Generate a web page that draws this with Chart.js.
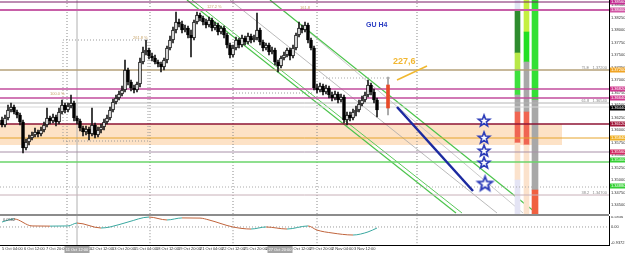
<!DOCTYPE html>
<html><head><meta charset="utf-8">
<script src="https://cdn.jsdelivr.net/npm/chart.js@4.4.1/dist/chart.umd.min.js"></script>
<style>
html,body{margin:0;padding:0;background:#fff;width:625px;height:253px;overflow:hidden;}
#wrap{position:relative;width:625px;height:253px;background:#fff;}
canvas{position:absolute;left:0;}
#c1{top:0;}
#sep{position:absolute;left:0;top:214px;width:609px;height:2px;background:#8c8c8c;}
#c2{top:216px;}
</style></head><body>
<div id="wrap"><canvas id="c1" width="625" height="214"></canvas><div id="sep"></div><canvas id="c2" width="625" height="37"></canvas></div>
<script>
// ---------- DATA ----------
const opens = [1.3620,1.3610,1.3624,1.3640,1.3646,1.3636,1.3630,1.3616,1.3564,1.3576,
1.3584,1.3590,1.3596,1.3592,1.3600,1.3610,1.3624,1.3618,1.3626,1.3616,
1.3636,1.3650,1.3640,1.3648,1.3654,1.3624,1.3618,1.3604,1.3596,1.3602,
1.3592,1.3610,1.3590,1.3600,1.3606,1.3616,1.3624,1.3640,1.3656,1.3664,
1.3672,1.3680,1.3720,1.3696,1.3684,1.3680,1.3692,1.3736,1.3756,1.3760,
1.3748,1.3744,1.3736,1.3732,1.3726,1.3740,1.3764,1.3780,1.3800,1.3816,
1.3812,1.3800,1.3804,1.3790,1.3784,1.3816,1.3830,1.3824,1.3816,1.3810,
1.3820,1.3804,1.3810,1.3796,1.3804,1.3790,1.3770,1.3750,1.3764,1.3780,
1.3770,1.3784,1.3776,1.3788,1.3780,1.3784,1.3800,1.3776,1.3764,1.3770,
1.3756,1.3760,1.3736,1.3728,1.3744,1.3750,1.3760,1.3748,1.3764,1.3790,
1.3804,1.3800,1.3810,1.3780,1.3764,1.3684,1.3680,1.3688,1.3676,1.3684,
1.3670,1.3664,1.3672,1.3660,1.3666,1.3620,1.3630,1.3624,1.3636,1.3640,
1.3652,1.3660,1.3670,1.3690,1.3676,1.3660];
const closes = [1.3610,1.3624,1.3640,1.3646,1.3636,1.3630,1.3616,1.3564,1.3576,1.3584,
1.3590,1.3596,1.3592,1.3600,1.3610,1.3624,1.3618,1.3626,1.3616,1.3636,
1.3650,1.3640,1.3648,1.3654,1.3624,1.3618,1.3604,1.3596,1.3602,1.3592,
1.3610,1.3590,1.3600,1.3606,1.3616,1.3624,1.3640,1.3656,1.3664,1.3672,
1.3680,1.3720,1.3696,1.3684,1.3680,1.3692,1.3736,1.3756,1.3760,1.3748,
1.3744,1.3736,1.3732,1.3726,1.3740,1.3764,1.3780,1.3800,1.3816,1.3812,
1.3800,1.3804,1.3790,1.3784,1.3816,1.3830,1.3824,1.3816,1.3810,1.3820,
1.3804,1.3810,1.3796,1.3804,1.3790,1.3770,1.3750,1.3764,1.3780,1.3770,
1.3784,1.3776,1.3788,1.3780,1.3784,1.3800,1.3776,1.3764,1.3770,1.3756,
1.3760,1.3736,1.3728,1.3744,1.3750,1.3760,1.3748,1.3764,1.3790,1.3804,
1.3800,1.3810,1.3780,1.3764,1.3684,1.3680,1.3688,1.3676,1.3684,1.3670,
1.3664,1.3672,1.3660,1.3666,1.3620,1.3630,1.3624,1.3636,1.3640,1.3652,
1.3660,1.3670,1.3690,1.3676,1.3660,1.3640];
const highs = [1.3626,1.3630,1.3650,1.3654,1.3650,1.3640,1.3634,1.3620,1.3582,1.3590,
1.3596,1.3604,1.3600,1.3606,1.3616,1.3644,1.3628,1.3632,1.3630,1.3644,
1.3660,1.3654,1.3654,1.3670,1.3658,1.3628,1.3622,1.3608,1.3608,1.3606,
1.3644,1.3614,1.3606,1.3612,1.3622,1.3630,1.3646,1.3662,1.3670,1.3678,
1.3688,1.3740,1.3724,1.3700,1.3690,1.3696,1.3744,1.3766,1.3780,1.3764,
1.3754,1.3750,1.3740,1.3736,1.3744,1.3768,1.3788,1.3806,1.3836,1.3822,
1.3818,1.3810,1.3808,1.3800,1.3820,1.3836,1.3834,1.3828,1.3822,1.3826,
1.3824,1.3816,1.3814,1.3808,1.3808,1.3794,1.3774,1.3770,1.3786,1.3784,
1.3790,1.3788,1.3794,1.3792,1.3790,1.3834,1.3804,1.3780,1.3774,1.3774,
1.3766,1.3764,1.3740,1.3748,1.3756,1.3764,1.3764,1.3770,1.3794,1.3816,
1.3810,1.3816,1.3814,1.3784,1.3768,1.3692,1.3694,1.3692,1.3690,1.3688,
1.3676,1.3678,1.3676,1.3672,1.3670,1.3636,1.3636,1.3642,1.3648,1.3660,
1.3668,1.3676,1.3700,1.3694,1.3682,1.3664];
const lows = [1.3606,1.3606,1.3620,1.3636,1.3632,1.3624,1.3610,1.3554,1.3560,1.3570,
1.3580,1.3586,1.3586,1.3588,1.3596,1.3606,1.3612,1.3614,1.3608,1.3612,
1.3632,1.3634,1.3636,1.3644,1.3618,1.3612,1.3598,1.3588,1.3590,1.3580,
1.3588,1.3584,1.3586,1.3594,1.3600,1.3612,1.3620,1.3636,1.3652,1.3660,
1.3668,1.3676,1.3690,1.3678,1.3674,1.3676,1.3686,1.3732,1.3750,1.3742,
1.3738,1.3732,1.3726,1.3716,1.3720,1.3734,1.3760,1.3774,1.3794,1.3806,
1.3794,1.3796,1.3784,1.3746,1.3780,1.3812,1.3818,1.3810,1.3804,1.3806,
1.3798,1.3800,1.3790,1.3792,1.3784,1.3764,1.3744,1.3746,1.3760,1.3764,
1.3766,1.3770,1.3772,1.3774,1.3776,1.3780,1.3770,1.3758,1.3760,1.3750,
1.3752,1.3730,1.3716,1.3724,1.3740,1.3746,1.3740,1.3744,1.3760,1.3786,
1.3794,1.3796,1.3774,1.3760,1.3680,1.3674,1.3676,1.3670,1.3672,1.3664,
1.3658,1.3660,1.3654,1.3656,1.3614,1.3610,1.3618,1.3620,1.3628,1.3636,
1.3648,1.3656,1.3666,1.3670,1.3654,1.3626];

// horizontal levels
const levels      = [1.3856,1.3840,1.3720,1.3682,1.3664,1.3654,1.3646,1.3612,1.3584,1.3556,1.3536,1.3486,1.3470];
const levelColors = ['#7a1a66','#c860a8','#b4a078','#c24c9c','#c24c9c','#b4b4b4','#d8d8d8','#8e1434','#e6a42c','#a890a8','#6ad46a','#aaaaaa','#c8b0b8'];
const levelWidths = [1,2,1.5,1.5,1.5,1,1,1.5,1,1,1.5,1,1];
// support zone
const zoneTop = 1.3612, zoneBottom = 1.3570, zoneEndIdx = 186.67;
// axis price tags
const tagPrices = [1.3856,1.3840,1.3720,1.3682,1.3664,1.3644,1.3612,1.3584,1.3556,1.3540,1.3488];
const tagColors = ['#c42c92','#d256a4','#f0a424','#d0388e','#d0388e','#000000','#a0183a','#f0b024','#d22a62','#34d034','#34d034'];
// trend lines [idx, price]
const channelUpper  = [[89.33,1.3860],[177.67,1.3436]];
const channelLowerA = [[61.67,1.3860],[151.33,1.3434]];
const channelLowerB = [[63.33,1.3860],[153.33,1.3434]];
const channelMidA   = [[76.00,1.3860],[165.00,1.3434]];
const channelMidB   = [[93.67,1.3840],[173.67,1.3434]];
const blueTarget    = [[131.67,1.3646],[157.00,1.3478]];
const goldArrow     = [[131.67,1.3700],[141.67,1.3728]];
const markerBar = [1.3644,1.3690], markerWick = [1.3630,1.3706], markerIdx = 128.67;
// stars
const starIdx = [160.67,160.67,160.67,160.67,161.0];
const starPrices = [1.3618,1.3584,1.3558,1.3534,1.3492];
// right-side strength columns: [from, to]
const colAIdx = 171.83, colBIdx = 174.83, colCIdx = 177.67;
const colA = [[1.3860,1.3838],[1.3838,1.3754],[1.3754,1.3720],[1.3720,1.3670],[1.3670,1.3636],[1.3636,1.3574],[1.3574,1.3500],[1.3500,1.3432]];
const colAColors = ['#dfe4f2','#2e8b2e','#b8e848','#3ee03e','#a8a8a8','#f06552','#fbe2cc','#e4e4f4'];
const colB = [[1.3860,1.3796],[1.3796,1.3736],[1.3736,1.3636],[1.3636,1.3570],[1.3570,1.3432]];
const colBColors = ['#c4f040','#22e022','#a8a8a8','#f06552','#fbe2cc'];
const colC = [[1.3860,1.3660],[1.3660,1.3480],[1.3480,1.3432]];
const colCColors = ['#33e033','#a8a8a8','#f06040'];
// separators & fib boxes
const sepIdx = [21.67,49.33,77,105,138.33];
const vLineIdx = 25;
const fibBox = [[20.33,1.3780],[48.67,1.3780],[48.67,1.3578],[20.33,1.3578],[20.33,1.3780]];
const fibLine2 = [[77,1.3674],[103.67,1.3674]];
const fibLine3 = [[107,1.3704],[129.33,1.3704]];
// oscillator
const indIdx = [0,4,10,16,22,25,33,36,42,49,55,60,66,69,77,83,88,95,102,105,110,117,122,125];
const indVal = [0.29,0.47,0.06,0.05,0.06,0.23,-0.06,0.0,0.29,0.58,0.41,0.53,0.52,0.41,0.0,-0.12,0.0,-0.12,0.06,-0.18,-0.35,-0.47,-0.29,-0.06];
const indTicks = [0.5836,0,-0.9372];
// time axis
const timeTickIdx = [0,7.33,14.67,22,29.33,36.67,44,51.33,58.67,66,73.33,80.67,88,95.33,102.67,110,117.33];
const timeLabels = ['5 Oct 04:00','6 Oct 12:00','7 Oct 20:00','11 Oct 04:00','12 Oct 12:00','13 Oct 20:00','15 Oct 04:00','18 Oct 12:00','19 Oct 20:00','21 Oct 04:00','22 Oct 12:00','25 Oct 20:00','27 Oct 04:00','28 Oct 12:00','29 Oct 20:00','2 Nov 04:00','3 Nov 12:00'];
const boxLabels = [[25,'11 Oct 12:00'],[92.67,'27 Oct 20:00']];

// ---------- CHART ----------
const X_MIN = -0.667, X_MAX = 202.333, P_MIN = 1.3432, P_MAX = 1.3860;
const FONT = 'Liberation Sans, Arial, sans-serif';

function pts(arr){ return arr.map(p=>({x:p[0], y:p[1]})); }
function lineDs(arr, color, width, order, dash){
  return {type:'line', data:pts(arr), borderColor:color, borderWidth:width, pointRadius:0, pointHoverRadius:0, fill:false, order:order, borderDash:dash||[], tension:0};
}
function starImg(r, lw){
  const c=document.createElement('canvas'); const s=Math.ceil(2*r+lw*2+2); c.width=c.height=s;
  const g=c.getContext('2d'); g.beginPath();
  for(let k=0;k<10;k++){const rr=k%2? r*0.42 : r; const a=-Math.PI/2+k*Math.PI/5; g.lineTo(s/2+rr*Math.cos(a), s/2+rr*Math.sin(a));}
  g.closePath(); g.fillStyle='#ffffff'; g.fill(); g.strokeStyle='#2a3ab8'; g.lineWidth=lw; g.lineJoin='miter'; g.stroke(); return c;
}
const sSmall = starImg(6,1.6), sBig = starImg(7.5,1.8);

const ds = [];
ds.push({type:'line', showLine:false, data:starIdx.map((x,i)=>({x, y:starPrices[i]})), pointStyle:[sSmall,sSmall,sSmall,sSmall,sBig], pointRadius:5, order:0});
ds.push(lineDs(blueTarget,'#1c2aa0',2.5,1));
ds.push(lineDs(goldArrow,'#f0b830',1.6,1));
ds.push({type:'bar', data:[{x:markerIdx,y:markerBar}], backgroundColor:'#e84a28', barThickness:3, grouped:false, order:1});
ds.push({type:'bar', data:[{x:markerIdx,y:markerWick}], backgroundColor:'#9a9a9a', barThickness:1, grouped:false, order:1.5});
ds.push({type:'bar', data:opens.map((o,i)=>({x:i,y:[o,closes[i]]})), backgroundColor:opens.map((o,i)=>closes[i]>=o?'#ffffff':'#000000'), borderColor:'#000000', borderWidth:1, borderSkipped:false, barThickness:3, grouped:false, order:2});
ds.push({type:'bar', data:lows.map((l,i)=>({x:i,y:[l,highs[i]]})), backgroundColor:'#1a1a1a', barThickness:1, grouped:false, order:3});
levels.forEach((p,i)=>ds.push(lineDs([[X_MIN,p],[X_MAX,p]], levelColors[i], levelWidths[i], 4, i===11?[1,2]:[])));
[[colA,colAColors,colAIdx,5],[colB,colBColors,colBIdx,5],[colC,colCColors,colCIdx,6]].forEach(c=>{
  ds.push({type:'bar', data:c[0].map(s=>({x:c[2],y:s})), backgroundColor:c[1], barThickness:c[3], grouped:false, order:5});
});
ds.push(lineDs(channelUpper,'#4cc44c',1.2,6));
ds.push(lineDs(channelLowerA,'#4cc44c',1.2,6));
ds.push(lineDs(channelLowerB,'#5cc85c',1,6));
ds.push(lineDs(channelMidA,'#a8a8a8',0.8,6));
ds.push(lineDs(channelMidB,'#bcbcbc',0.8,6));
ds.push(lineDs(fibBox,'#9a9a9a',1,7,[1,2]));
ds.push(lineDs(fibLine2,'#9a9a9a',1,7,[1,2]));
ds.push(lineDs(fibLine3,'#aaaaaa',1,7,[1,2]));
ds.push({type:'line', data:[{x:X_MIN,y:zoneTop},{x:zoneEndIdx,y:zoneTop}], borderWidth:0, pointRadius:0, pointHoverRadius:0, fill:{value:zoneBottom}, backgroundColor:'#fde2c6', order:9});
sepIdx.forEach(x=>ds.push(lineDs([[x,P_MIN],[x,P_MAX]],'#8a8a8a',1,8,[1,2])));
ds.push(lineDs([[vLineIdx,P_MIN],[vLineIdx,P_MAX]],'#b0b0b0',1,8));

const overlay = {
  id:'overlay',
  afterDraw(chart){
    const g=chart.ctx, y=chart.scales.y;
    g.save();
    g.font='4px '+FONT; g.textBaseline='middle'; g.textAlign='left';
    tagPrices.forEach((p,i)=>{ const py=y.getPixelForValue(p); g.fillStyle=tagColors[i]; g.fillRect(610,py-2.5,15,5); g.fillStyle='#ffffff'; g.fillText(p.toFixed(5),611,py); });
    g.fillStyle='#8a8a8a'; g.textAlign='right'; g.textBaseline='bottom';
    g.fillText('TLE   1.37200',607,y.getPixelForValue(1.3720)-0.5);
    g.fillText('61.8   1.36540',607,y.getPixelForValue(1.3654)-0.5);
    g.fillText('38.2   1.34700',607,y.getPixelForValue(1.3470)-0.5);
    g.fillStyle='#c8a46a'; g.textAlign='left'; g.textBaseline='middle';
    g.fillText('100.0 %',50,94); g.fillText('261.8 %',133,38); g.fillText('127.2 %',207,7); g.fillText('161.8',300,8);
    g.font='bold 7px '+FONT; g.fillStyle='#2a3cc2'; g.fillText('GU H4',366,25);
    g.font='bold 9px '+FONT; g.fillStyle='#f2b731'; g.fillText('227,6',393,62);
    g.restore();
  }
};

new Chart(document.getElementById('c1'), {
  data:{datasets:ds},
  options:{
    animation:false, responsive:false, events:[],
    layout:{padding:0, autoPadding:false},
    plugins:{legend:{display:false}, tooltip:{enabled:false}},
    scales:{
      x:{type:'linear', min:X_MIN, max:X_MAX, display:false, offset:false, grid:{offset:false}},
      y:{type:'linear', position:'right', min:P_MIN, max:P_MAX, beginAtZero:false,
         afterFit(s){s.width=16; s.paddingTop=0; s.paddingBottom=0;},
         grid:{display:false, drawTicks:false}, border:{display:true,color:'#000',width:1},
         ticks:{stepSize:0.0025, includeBounds:false, font:{size:4,family:FONT}, color:'#333', padding:2, callback:v=>v.toFixed(5)}}
    }
  },
  plugins:[overlay]
});

// ---------- INDICATOR ----------
const ds2 = [];
ds2.push({type:'line', data:indIdx.map((x,i)=>({x,y:indVal[i]})), borderWidth:1, pointRadius:0, pointHoverRadius:0, cubicInterpolationMode:'monotone', order:0,
  borderColor:'#3aa8a0', segment:{borderColor:c=>c.p1.parsed.y>=c.p0.parsed.y?'#3aa8a0':'#c0643c'}});
ds2.push(lineDs([[X_MIN,0],[X_MAX,0]],'#9a9a9a',1,2,[1,2]));
sepIdx.forEach(x=>ds2.push(lineDs([[x,-2],[x,2]],'#8a8a8a',1,3,[1,2])));
ds2.push(lineDs([[vLineIdx,-2],[vLineIdx,2]],'#b0b0b0',1,3));

const overlay2 = {
  id:'overlay2',
  afterDraw(chart){
    const g=chart.ctx, x=chart.scales.x;
    g.save(); g.font='4px '+FONT; g.textBaseline='middle';
    g.fillStyle='#444'; g.textAlign='left'; g.fillText('0.0582',3,3.5);
    boxLabels.forEach(b=>{ const px=x.getPixelForValue(b[0]); g.fillStyle='#a4a4a4'; g.fillRect(px-12.5,30,25,7); g.fillStyle='#ffffff'; g.textAlign='center'; g.fillText(b[1],px,33.5); });
    g.restore();
  }
};

new Chart(document.getElementById('c2'), {
  data:{datasets:ds2},
  options:{
    animation:false, responsive:false, events:[],
    layout:{padding:0, autoPadding:false},
    plugins:{legend:{display:false}, tooltip:{enabled:false}},
    scales:{
      x:{type:'linear', min:X_MIN, max:X_MAX, offset:false,
         afterBuildTicks(s){ s.ticks = timeTickIdx.map(v=>({value:v})); },
         afterFit(s){ s.height=8; s.paddingLeft=0; s.paddingRight=0; },
         grid:{display:false, drawTicks:false}, border:{display:true,color:'#000',width:1},
         ticks:{autoSkip:false, maxRotation:0, align:'start', padding:1, font:{size:4,family:FONT}, color:'#333', callback:(v,i)=>timeLabels[i]}},
      y:{type:'linear', position:'right', min:-1.054, max:0.642,
         afterBuildTicks(s){ s.ticks = indTicks.map(v=>({value:v})); },
         afterFit(s){ s.width=16; s.paddingTop=0; s.paddingBottom=0; },
         grid:{display:false, drawTicks:false}, border:{display:true,color:'#000',width:1},
         ticks:{font:{size:4,family:FONT}, color:'#333', padding:2, callback:v=> v===0?'0.00':v.toFixed(4)}}
    }
  },
  plugins:[overlay2]
});
</script></body></html>
